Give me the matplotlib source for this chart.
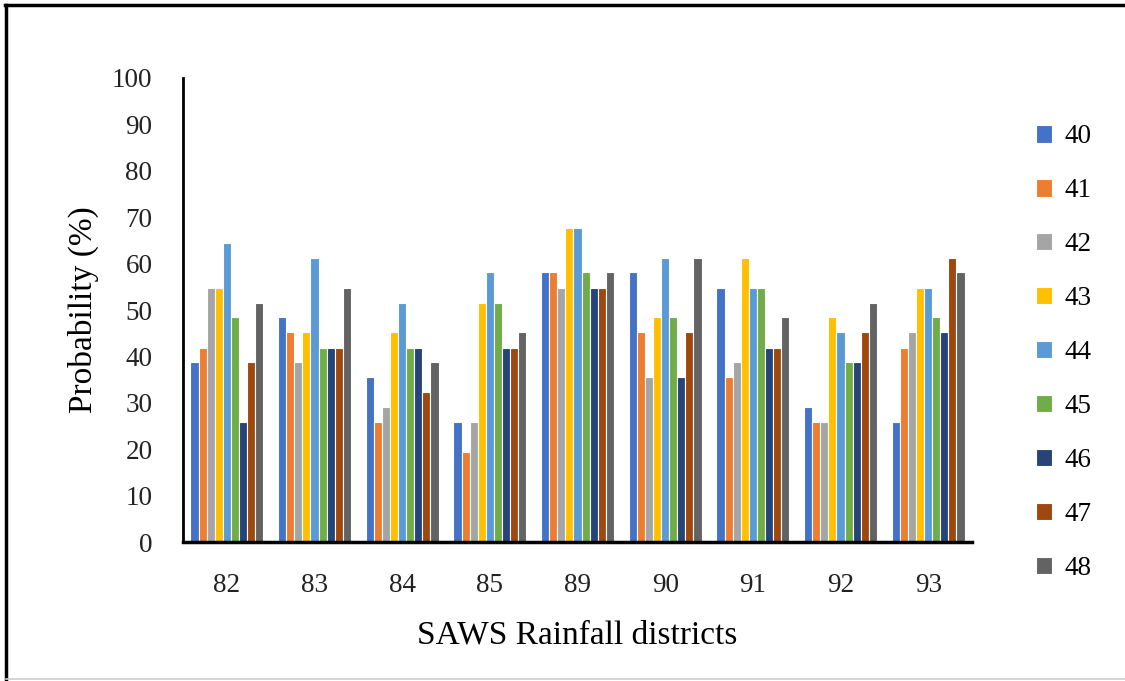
import matplotlib.pyplot as plt
import numpy as np
from matplotlib.lines import Line2D

districts = ['82', '83', '84', '85', '89', '90', '91', '92', '93']
series = ['40', '41', '42', '43', '44', '45', '46', '47', '48']
colors = ['#4472C4', '#ED7D31', '#A5A5A5', '#FFC000', '#5B9BD5',
          '#70AD47', '#264478', '#9E480E', '#636363']

# probability (%) per district, one list per series 40..48
s40 = [38.7, 48.4, 35.5, 25.8, 58.1, 58.1, 54.8, 29.0, 25.8]
s41 = [41.9, 45.2, 25.8, 19.4, 58.1, 45.2, 35.5, 25.8, 41.9]
s42 = [54.8, 38.7, 29.0, 25.8, 54.8, 35.5, 38.7, 25.8, 45.2]
s43 = [54.8, 45.2, 45.2, 51.6, 67.7, 48.4, 61.3, 48.4, 54.8]
s44 = [64.5, 61.3, 51.6, 58.1, 67.7, 61.3, 54.8, 45.2, 54.8]
s45 = [48.4, 41.9, 41.9, 51.6, 58.1, 48.4, 54.8, 38.7, 48.4]
s46 = [25.8, 41.9, 41.9, 41.9, 54.8, 35.5, 41.9, 38.7, 45.2]
s47 = [38.7, 41.9, 32.3, 41.9, 54.8, 45.2, 41.9, 45.2, 61.3]
s48 = [51.6, 54.8, 38.7, 45.2, 58.1, 61.3, 48.4, 51.6, 58.1]
values = [s40, s41, s42, s43, s44, s45, s46, s47, s48]

plt.rcParams['font.family'] = ['Liberation Serif', 'DejaVu Serif']

fig = plt.figure(figsize=(11.25, 6.81), dpi=100)
ax = fig.add_axes([0.1627, 0.204, 0.7013, 0.6815])

x = np.arange(len(districts))
group_w = 0.83
w = group_w / len(series)
for i, (name, vals) in enumerate(zip(series, values)):
    offs = -group_w / 2 + w * (i + 0.5)
    ax.bar(x + offs, vals, width=w, color=colors[i], edgecolor='white',
           linewidth=0.8, label=name)

ax.set_xlim(-0.5, len(districts) - 0.5)
ax.set_ylim(0, 100)
ax.set_yticks(np.arange(0, 101, 10))
ax.set_xticks(x)
ax.set_xticklabels(districts)
ax.tick_params(axis='both', length=0, labelsize=19.5, colors='#222222')
ax.tick_params(axis='y', pad=22)
ax.tick_params(axis='x', pad=22)
for s in ['top', 'right']:
    ax.spines[s].set_visible(False)
ax.spines['left'].set_linewidth(2)
ax.spines['bottom'].set_linewidth(2.5)

ax.set_ylabel('Probability (%)', fontsize=24, labelpad=9)
ax.set_xlabel('SAWS Rainfall districts', fontsize=24, labelpad=16)

fig.legend(loc='upper left', bbox_to_anchor=(0.899, 0.853), frameon=False,
           fontsize=19.5, handlelength=0.6, handleheight=0.6, handletextpad=0.45,
           labelspacing=1.07)

# outer frame
fig.add_artist(Line2D([0.0055, 0.0055], [0.003, 0.993], color='black', lw=2.5,
                      transform=fig.transFigure))
fig.add_artist(Line2D([0.0045, 1.0], [0.993, 0.993], color='black', lw=2.5,
                      transform=fig.transFigure))
fig.add_artist(Line2D([0.0055, 1.0], [0.003, 0.003], color='#cccccc', lw=1.2,
                      transform=fig.transFigure))

fig.savefig('out.png', dpi=100)
